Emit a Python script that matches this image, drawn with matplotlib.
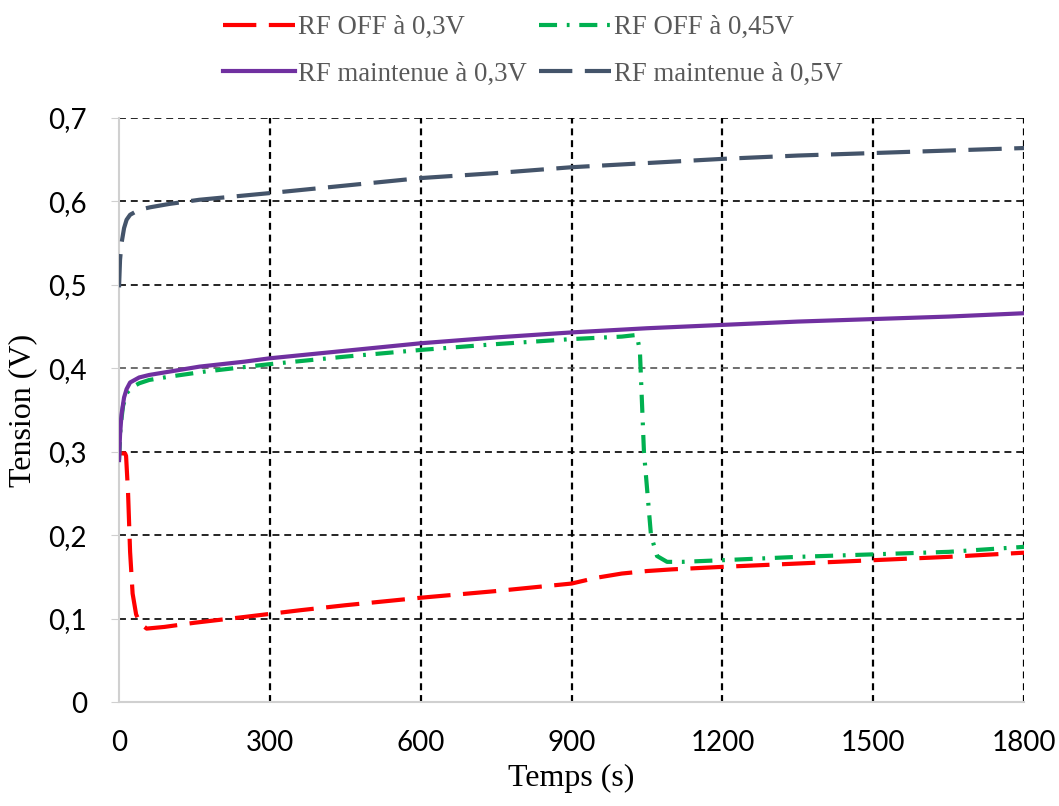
import matplotlib
matplotlib.use("Agg")
import matplotlib.pyplot as plt
from matplotlib.ticker import FuncFormatter

# --- Daten ---
t_off03 = [0, 12, 14, 18, 22, 27, 34, 42, 55, 90, 150, 250, 360, 450, 600, 750,
           900, 950, 1000, 1050, 1100, 1200, 1350, 1500, 1650, 1800]
v_off03 = [0.298, 0.298, 0.295, 0.25, 0.18, 0.13, 0.105, 0.094, 0.088, 0.090, 0.095,
           0.102, 0.110, 0.116, 0.125, 0.133, 0.142, 0.149, 0.154, 0.157, 0.159,
           0.162, 0.166, 0.170, 0.174, 0.179]

t_off045 = [0, 3, 8, 15, 25, 40, 60, 100, 170, 300, 450, 600, 750, 900, 1000, 1030,
            1036, 1044, 1058, 1070, 1090, 1120, 1200, 1350, 1500, 1650, 1800]
v_off045 = [0.29, 0.33, 0.355, 0.37, 0.377, 0.382, 0.386, 0.390, 0.396, 0.405, 0.414,
            0.422, 0.429, 0.435, 0.438, 0.44, 0.42, 0.30, 0.20, 0.175, 0.168, 0.168,
            0.170, 0.174, 0.177, 0.180, 0.186]

t_on03 = [0, 2, 5, 10, 15, 22, 40, 60, 100, 160, 250, 300, 400, 600, 750, 900, 1050,
          1200, 1350, 1500, 1650, 1800]
v_on03 = [0.29, 0.32, 0.345, 0.365, 0.375, 0.383, 0.389, 0.392, 0.396, 0.402, 0.408,
          0.412, 0.418, 0.430, 0.437, 0.443, 0.448, 0.452, 0.456, 0.459, 0.462, 0.466]

t_on05 = [0, 2, 5, 10, 15, 22, 40, 62, 100, 160, 300, 450, 600, 750, 900, 1050, 1200,
          1350, 1500, 1650, 1800]
v_on05 = [0.497, 0.53, 0.55, 0.568, 0.578, 0.584, 0.59, 0.593, 0.597, 0.602, 0.610,
          0.619, 0.628, 0.634, 0.641, 0.646, 0.651, 0.655, 0.658, 0.661, 0.664]

x_ticks = [0, 300, 600, 900, 1200, 1500, 1800]
y_ticks = [0, 0.1, 0.2, 0.3, 0.4, 0.5, 0.6, 0.7]

plt.rcParams["lines.scale_dashes"] = False

fig = plt.figure(figsize=(10.59, 8.06), dpi=100)
ax = fig.add_axes([0.1124, 0.129, 0.8546, 0.7246])

# Gitter
for x in x_ticks[1:]:
    ax.axvline(x, color="black", lw=1.6, dashes=(5, 3.5), zorder=1)
for y in y_ticks[1:]:
    ax.axhline(y, color="black" if y != 0.4 else "#555555", lw=1.2, dashes=(5, 3.5), zorder=1)

l_red, = ax.plot(t_off03, v_off03, color="#FF0000", lw=3, dashes=(24, 9),
                 label="RF OFF à 0,3V", zorder=3)
l_green, = ax.plot(t_off045, v_off045, color="#00B050", lw=3, dashes=(13, 7, 2, 7),
                   label="RF OFF à 0,45V", zorder=3)
l_purple, = ax.plot(t_on03, v_on03, color="#7030A0", lw=3,
                    label="RF maintenue à 0,3V", zorder=4)
l_slate, = ax.plot(t_on05, v_on05, color="#44546A", lw=3, dashes=(24, 9),
                   label="RF maintenue à 0,5V", zorder=4)

ax.set_xlim(0, 1800)
ax.set_ylim(0, 0.7)
ax.set_xticks(x_ticks)
ax.set_yticks(y_ticks)
ax.yaxis.set_major_formatter(FuncFormatter(lambda v, p: f"{v:.1f}".replace(".", ",") if v else "0"))

for s in ["top", "right"]:
    ax.spines[s].set_visible(False)
for s in ["left", "bottom"]:
    ax.spines[s].set_color("#D0D0D0")
    ax.spines[s].set_linewidth(1.5)
ax.tick_params(axis="x", length=0, pad=20, labelsize=20)
ax.tick_params(axis="y", length=6, color="#D0D0D0", pad=17, labelsize=20)
for lab in ax.get_xticklabels() + ax.get_yticklabels():
    lab.set_family("Lato")

ax.set_xlabel("Temps (s)", family="Liberation Serif", fontsize=23, labelpad=6)
ax.set_ylabel("Tension (V)", family="Liberation Serif", fontsize=23, labelpad=8)

leg = fig.legend(handles=[l_red, l_purple, l_green, l_slate], ncol=2, loc="upper center",
                 bbox_to_anchor=(0.503, 1.011), frameon=False,
                 prop={"family": "Liberation Serif", "size": 19.3},
                 handlelength=2.7, handletextpad=0.1, columnspacing=0.45, labelspacing=0.8)
for txt in leg.get_texts():
    txt.set_color("#595959")

fig.savefig("out.png", dpi=100)
